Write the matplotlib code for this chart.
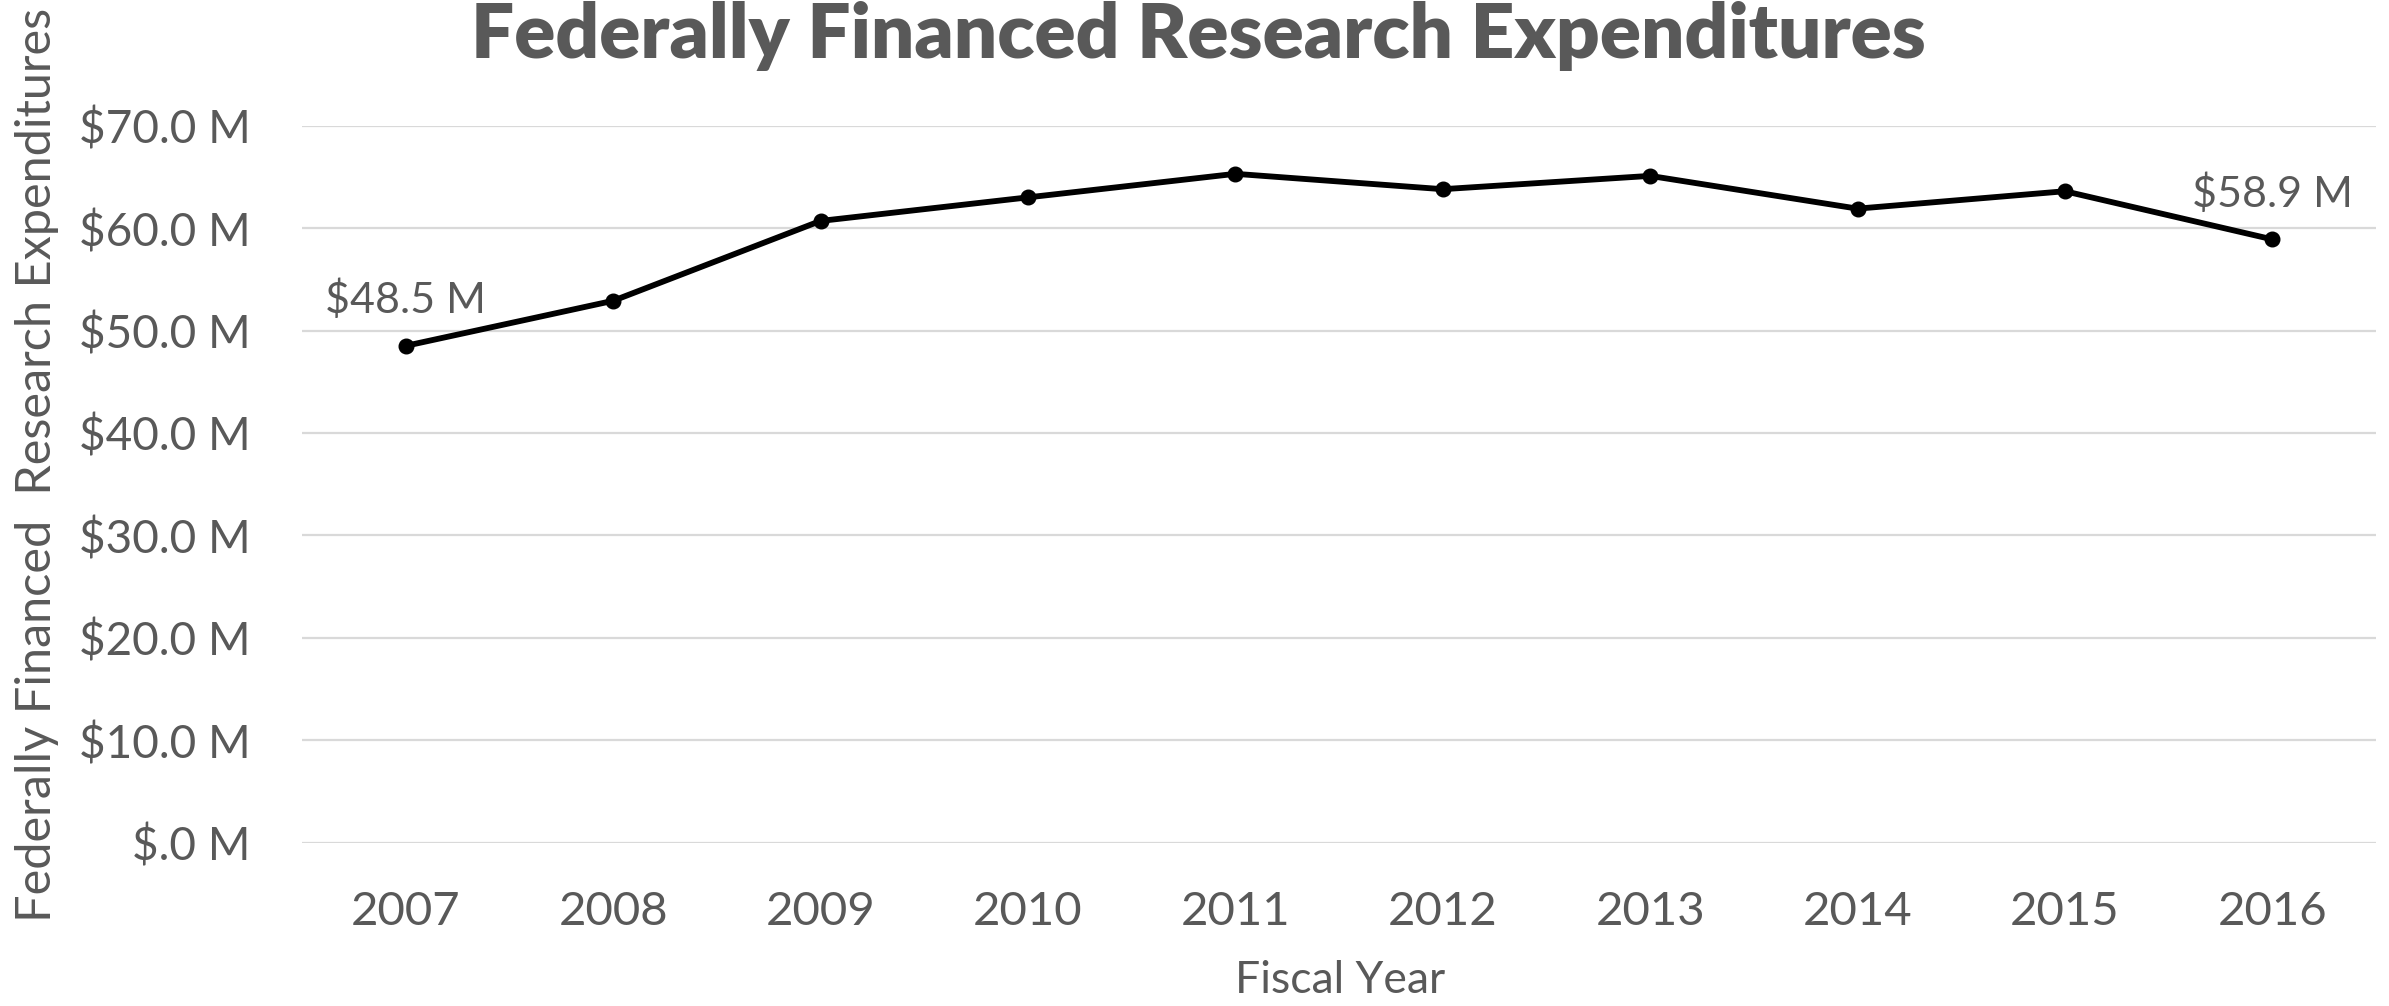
import matplotlib
matplotlib.use("Agg")
import matplotlib.pyplot as plt

# values (millions of dollars)
years = ["2007", "2008", "2009", "2010", "2011", "2012", "2013", "2014", "2015", "2016"]
spend = [48.5, 52.9, 60.7, 63.0, 65.3, 63.8, 65.1, 61.9, 63.6, 58.9]
y_ticks = [0, 10, 20, 30, 40, 50, 60, 70]
y_labels = ["$.0 M", "$10.0 M", "$20.0 M", "$30.0 M", "$40.0 M", "$50.0 M", "$60.0 M", "$70.0 M"]

grey = "#595959"
plt.rcParams["font.family"] = ["Lato", "DejaVu Sans"]

W, H = 2389, 1006
fig = plt.figure(figsize=(W / 100, H / 100), dpi=100)
ax = fig.add_axes([302 / W, 1 - 842.5 / H, (2376 - 302) / W, (842.5 - 125.7) / H])

xs = list(range(len(years)))
ax.plot(xs, spend, color="black", lw=4.2, marker="o", ms=10.5, zorder=3)

# only first and last points are labelled
for i in (0, len(years) - 1):
    ax.annotate(f"${spend[i]:.1f} M", (xs[i], spend[i]), xytext=(0, 33),
                textcoords="offset points", ha="center", va="center",
                fontsize=31, color=grey)

ax.set_xlim(-0.5, len(years) - 0.5)
ax.set_ylim(0, 70)
ax.set_yticks(y_ticks)
ax.set_yticklabels(y_labels)
ax.set_xticks(xs)
ax.set_xticklabels(years)
ax.tick_params(axis="y", length=0, labelsize=33, colors=grey, pad=37)
ax.tick_params(axis="x", length=0, labelsize=34, colors=grey, pad=35)
ax.grid(axis="y", color="#d9d9d9", lw=1.6)
ax.set_axisbelow(True)
for s in ax.spines.values():
    s.set_visible(False)

fig.text(1340 / W, 1 - 993 / H, "Fiscal Year", ha="center", va="baseline",
         fontsize=32, color=grey)
fig.text(37 / W, 1 - 465 / H, "Federally Financed  Research Expenditures",
         rotation=90, ha="center", va="center", fontsize=35, color=grey)

fig.text(0.5015, 1 - 58 / H, "Federally Financed Research Expenditures",
         ha="center", va="baseline", fontsize=55, fontweight="heavy", color=grey)

fig.savefig("out.png", dpi=100, facecolor="white")
